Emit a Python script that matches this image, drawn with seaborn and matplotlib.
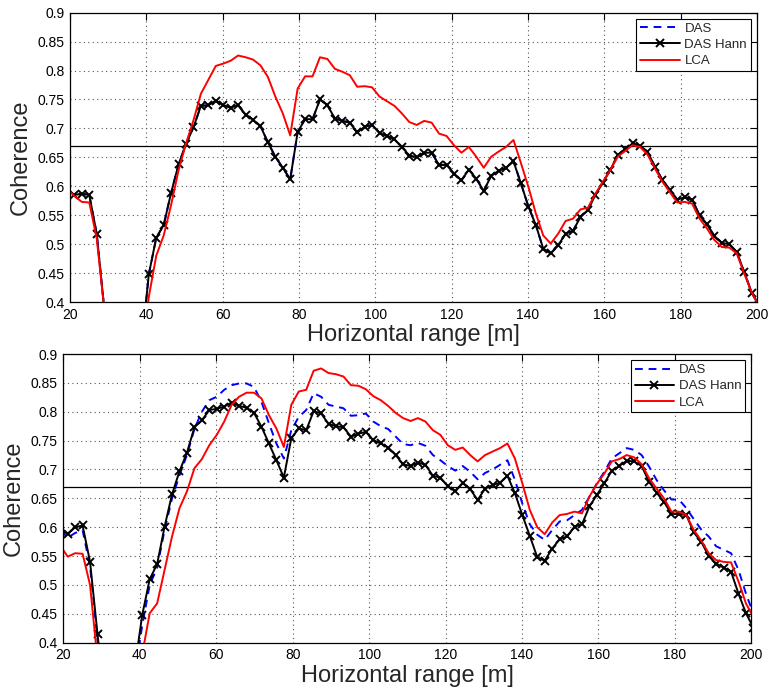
import numpy as np
import pandas as pd
import matplotlib
matplotlib.use("Agg")
import matplotlib.pyplot as plt
import seaborn as sns

# ---------------- data ----------------
sample_start = 19.2   # first range sample [m]
sample_step = 1.95    # range sample spacing [m]
n_samples = 94
range_m = np.round(sample_start + sample_step * np.arange(n_samples), 2)

series_names = ["DAS", "DAS Hann", "LCA"]
x_ticks = [20, 40, 60, 80, 100, 120, 140, 160, 180, 200]
y_ticks = [0.4, 0.45, 0.5, 0.55, 0.6, 0.65, 0.7, 0.75, 0.8, 0.85, 0.9]
threshold = 0.67

# top panel
hann_top = [0.595, 0.585, 0.587, 0.585, 0.518, 0.390, 0.28, 0.25, 0.24, 0.26,
            0.320, 0.448, 0.511, 0.533, 0.589, 0.638, 0.673, 0.702, 0.739, 0.740,
            0.748, 0.740, 0.736, 0.740, 0.724, 0.715, 0.704, 0.676, 0.651, 0.632,
            0.612, 0.694, 0.716, 0.716, 0.750, 0.740, 0.717, 0.713, 0.710, 0.693,
            0.703, 0.706, 0.692, 0.687, 0.681, 0.668, 0.653, 0.650, 0.658, 0.658,
            0.637, 0.637, 0.622, 0.610, 0.629, 0.613, 0.592, 0.618, 0.627, 0.632,
            0.643, 0.605, 0.565, 0.533, 0.492, 0.484, 0.498, 0.518, 0.523, 0.547,
            0.559, 0.585, 0.606, 0.628, 0.654, 0.664, 0.674, 0.670, 0.660, 0.634,
            0.611, 0.594, 0.577, 0.581, 0.577, 0.550, 0.534, 0.514, 0.502, 0.500,
            0.486, 0.452, 0.416, 0.394]
das_top = [0.595, 0.585, 0.587, 0.585, 0.518, 0.390, 0.28, 0.25, 0.24, 0.26,
           0.320, 0.448, 0.511, 0.533, 0.589, 0.638, 0.673, 0.702, 0.739, 0.740,
           0.748, 0.740, 0.736, 0.740, 0.724, 0.715, 0.704, 0.676, 0.651, 0.632,
           0.612, 0.694, 0.716, 0.716, 0.750, 0.740, 0.717, 0.713, 0.710, 0.693,
           0.703, 0.706, 0.692, 0.687, 0.681, 0.668, 0.653, 0.650, 0.658, 0.658,
           0.637, 0.637, 0.622, 0.610, 0.629, 0.613, 0.592, 0.618, 0.627, 0.632,
           0.643, 0.605, 0.565, 0.533, 0.492, 0.484, 0.498, 0.518, 0.523, 0.547,
           0.559, 0.585, 0.606, 0.628, 0.654, 0.664, 0.674, 0.670, 0.660, 0.634,
           0.611, 0.594, 0.577, 0.581, 0.577, 0.550, 0.534, 0.514, 0.502, 0.500,
           0.486, 0.452, 0.416, 0.394]
lca_top = [0.597, 0.583, 0.573, 0.572, 0.510, 0.390, 0.30, 0.26, 0.25, 0.26,
           0.300, 0.409, 0.480, 0.515, 0.568, 0.628, 0.674, 0.714, 0.760, 0.784,
           0.808, 0.812, 0.817, 0.826, 0.823, 0.819, 0.809, 0.789, 0.755, 0.726,
           0.688, 0.769, 0.790, 0.790, 0.823, 0.820, 0.803, 0.798, 0.792, 0.772,
           0.773, 0.771, 0.755, 0.747, 0.739, 0.726, 0.711, 0.706, 0.713, 0.710,
           0.691, 0.687, 0.671, 0.658, 0.668, 0.651, 0.632, 0.651, 0.660, 0.668,
           0.680, 0.640, 0.599, 0.553, 0.515, 0.501, 0.518, 0.540, 0.544, 0.560,
           0.563, 0.587, 0.608, 0.628, 0.651, 0.661, 0.671, 0.668, 0.655, 0.631,
           0.608, 0.590, 0.572, 0.573, 0.570, 0.544, 0.527, 0.507, 0.495, 0.494,
           0.484, 0.449, 0.417, 0.392]

# bottom panel
das_bot = [0.595, 0.582, 0.590, 0.595, 0.532, 0.405, 0.30, 0.26, 0.25, 0.27,
           0.345, 0.430, 0.500, 0.530, 0.595, 0.650, 0.690, 0.725, 0.770, 0.800,
           0.820, 0.826, 0.838, 0.846, 0.849, 0.849, 0.843, 0.817, 0.780, 0.745,
           0.719, 0.768, 0.791, 0.803, 0.832, 0.826, 0.812, 0.809, 0.806, 0.793,
           0.794, 0.797, 0.783, 0.775, 0.770, 0.757, 0.744, 0.742, 0.746, 0.741,
           0.725, 0.716, 0.706, 0.698, 0.706, 0.696, 0.683, 0.694, 0.700, 0.708,
           0.716, 0.682, 0.641, 0.605, 0.587, 0.578, 0.595, 0.610, 0.612, 0.621,
           0.630, 0.653, 0.676, 0.696, 0.719, 0.728, 0.737, 0.734, 0.725, 0.705,
           0.682, 0.664, 0.648, 0.648, 0.633, 0.614, 0.596, 0.584, 0.567, 0.561,
           0.555, 0.526, 0.485, 0.450]
hann_bot = [0.594, 0.589, 0.600, 0.603, 0.540, 0.415, 0.30, 0.26, 0.25, 0.27,
            0.357, 0.448, 0.510, 0.536, 0.601, 0.657, 0.697, 0.729, 0.773, 0.785,
            0.803, 0.805, 0.809, 0.816, 0.810, 0.807, 0.798, 0.774, 0.745, 0.716,
            0.686, 0.754, 0.771, 0.768, 0.801, 0.797, 0.779, 0.775, 0.773, 0.757,
            0.762, 0.765, 0.751, 0.745, 0.738, 0.725, 0.709, 0.706, 0.712, 0.708,
            0.689, 0.686, 0.671, 0.662, 0.677, 0.666, 0.647, 0.667, 0.673, 0.677,
            0.689, 0.659, 0.621, 0.585, 0.548, 0.542, 0.563, 0.579, 0.584, 0.601,
            0.605, 0.636, 0.656, 0.676, 0.698, 0.706, 0.715, 0.714, 0.706, 0.679,
            0.660, 0.644, 0.623, 0.623, 0.621, 0.591, 0.575, 0.550, 0.537, 0.530,
            0.523, 0.485, 0.451, 0.426]
lca_bot = [0.568, 0.549, 0.555, 0.554, 0.500, 0.370, 0.28, 0.25, 0.24, 0.26,
           0.300, 0.380, 0.451, 0.468, 0.526, 0.584, 0.633, 0.662, 0.702, 0.718,
           0.742, 0.760, 0.783, 0.812, 0.826, 0.833, 0.833, 0.823, 0.794, 0.771,
           0.739, 0.812, 0.835, 0.838, 0.871, 0.875, 0.867, 0.865, 0.861, 0.846,
           0.845, 0.839, 0.827, 0.820, 0.810, 0.798, 0.789, 0.784, 0.789, 0.783,
           0.768, 0.760, 0.742, 0.734, 0.738, 0.725, 0.714, 0.725, 0.731, 0.737,
           0.745, 0.719, 0.676, 0.630, 0.600, 0.588, 0.608, 0.621, 0.623, 0.627,
           0.624, 0.653, 0.675, 0.693, 0.714, 0.718, 0.725, 0.721, 0.709, 0.685,
           0.667, 0.650, 0.627, 0.627, 0.621, 0.595, 0.577, 0.555, 0.543, 0.540,
           0.539, 0.506, 0.468, 0.444]

# ---------------- style ----------------
sns.set_theme(style="white")
plt.rcParams["font.family"] = ["Liberation Sans", "DejaVu Sans"]
plt.rcParams["axes.edgecolor"] = "black"
plt.rcParams["axes.linewidth"] = 0.9

W, H = 769, 687
fig = plt.figure(figsize=(W / 100, H / 100), dpi=100)
ax_top = fig.add_axes([70 / W, 1 - 302 / H, 687 / W, 289.3 / H])
ax_bot = fig.add_axes([63.3 / W, 1 - 642.7 / H, 688 / W, 288.7 / H])

styles = {
    "DAS": dict(color="#0000ff", linestyle=(0, (4, 3)), linewidth=1.4,
                marker="None"),
    "DAS Hann": dict(color="black", linestyle="-", linewidth=1.4, marker="x",
                     markersize=5.5, markeredgewidth=1.4,
                     markeredgecolor="black"),
    "LCA": dict(color="#ff0000", linestyle="-", linewidth=1.4, marker="None"),
}


def draw(ax, das, hann, lca):
    df = pd.DataFrame({"range": np.tile(range_m, 3),
                       "coh": np.concatenate([das, hann, lca]),
                       "method": np.repeat(series_names, n_samples)})
    handles = []
    for name in series_names:
        sub = df[df["method"] == name]
        sns.lineplot(data=sub, x="range", y="coh", ax=ax, sort=False,
                     estimator=None, legend=False)
        line = ax.get_lines()[-1]
        line.set(label=name, **styles[name])
        handles.append(line)
    ax.axhline(threshold, color="black", linewidth=0.9, zorder=1.5)
    ax.set_xlim(20, 200)
    ax.set_ylim(0.4, 0.9)
    ax.set_xticks(x_ticks)
    ax.set_yticks(y_ticks)
    ax.set_xticklabels([f"{t:g}" for t in x_ticks])
    ax.set_yticklabels([f"{t:g}" for t in y_ticks])
    ax.tick_params(direction="in", length=5, width=0.8, top=True, right=True,
                   labelsize=10, colors="black", pad=4)
    ax.grid(True, linestyle=(0, (1, 3)), color="#555555", linewidth=0.8)
    for s in ax.spines.values():
        s.set_visible(True)
        s.set_color("black")
    ax.set_xlabel("Horizontal range [m]", fontsize=17, labelpad=2)
    ax.set_ylabel("Coherence", fontsize=17, labelpad=4)
    leg = ax.legend(handles=handles, labels=series_names, loc="upper right",
                    fontsize=9.5, handlelength=3.0, fancybox=False,
                    framealpha=1, edgecolor="black", borderaxespad=0.45,
                    borderpad=0.3, labelspacing=0.3, handletextpad=0.35)
    leg.get_frame().set_linewidth(0.8)


draw(ax_top, das_top, hann_top, lca_top)
draw(ax_bot, das_bot, hann_bot, lca_bot)

fig.savefig("out.png", dpi=100)
